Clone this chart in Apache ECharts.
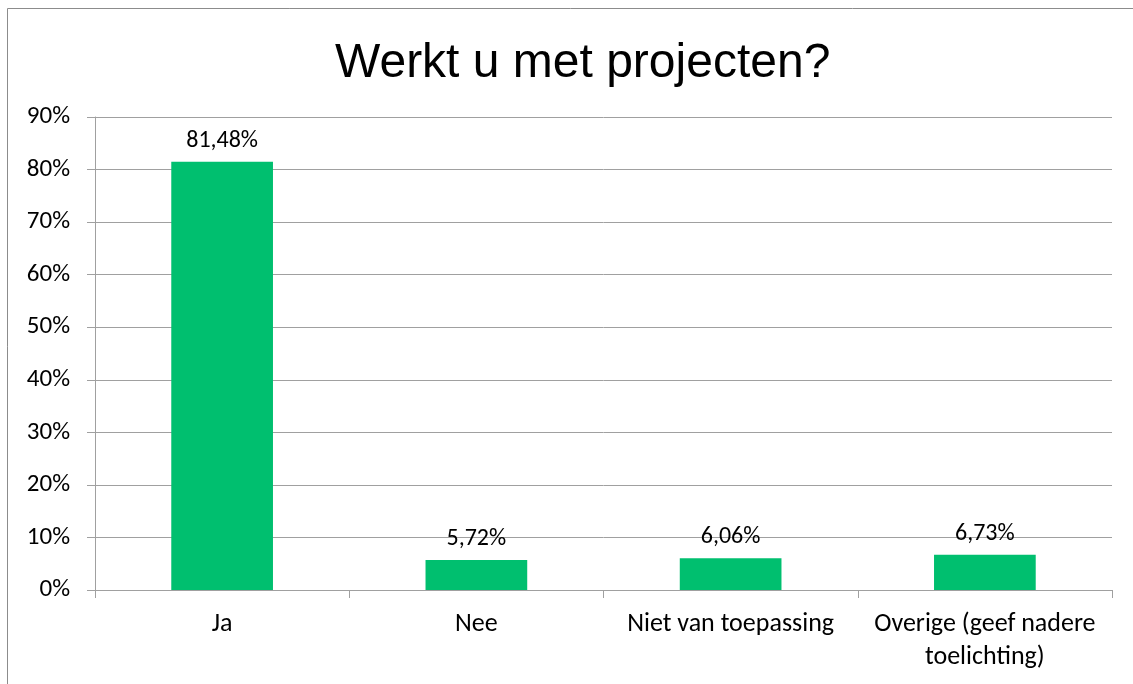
<!DOCTYPE html>
<html>
<head>
<meta charset="utf-8">
<script src="https://cdn.jsdelivr.net/npm/echarts@6/dist/echarts.min.js"></script>
<style>
  html, body { margin: 0; padding: 0; background: #fff; }
  #chart { width: 1133px; height: 684px; }
</style>
</head>
<body>
<div id="chart"></div>
<script>
// antwoorden en percentages
const categories = ['Ja', 'Nee', 'Niet van toepassing', 'Overige (geef nadere\ntoelichting)'];
const percentages = [81.48, 5.72, 6.06, 6.73];
const yTicks = [0, 10, 20, 30, 40, 50, 60, 70, 80, 90];

const labelFont = 'Carlito, Lato, "Open Sans", sans-serif';

let myChart = echarts.init(document.getElementById('chart'));
myChart.setOption({
  animation: false,
  title: {
    text: 'Werkt u met projecten?',
    left: 330,
    top: 35,
    textStyle: { fontFamily: 'Liberation Sans, Arial, sans-serif', fontSize: 48, fontWeight: 'normal', color: '#000' }
  },
  graphic: [{
    type: 'rect',
    shape: { x: 7.5, y: 8.5, width: 1300, height: 900 },
    style: { fill: 'none', stroke: '#8c8c8c', lineWidth: 1 }
  }],
  grid: { left: 95, right: 21, top: 117, bottom: 94 },
  xAxis: {
    type: 'category',
    data: categories,
    axisLine: { lineStyle: { color: '#a0a0a0' } },
    axisTick: { show: true, length: 8, lineStyle: { color: '#a0a0a0' } },
    axisLabel: { color: '#000', fontFamily: labelFont, fontSize: 26, margin: 18, lineHeight: 33, interval: 0 }
  },
  yAxis: {
    type: 'value',
    min: yTicks[0],
    max: yTicks[yTicks.length - 1],
    interval: 10,
    axisLine: { show: true, lineStyle: { color: '#a0a0a0' } },
    axisTick: { show: true, length: 8, lineStyle: { color: '#a0a0a0' } },
    splitLine: { lineStyle: { color: '#a0a0a0' } },
    axisLabel: { color: '#000', fontFamily: labelFont, fontSize: 25, margin: 25, formatter: '{value}%' }
  },
  series: [{
    type: 'bar',
    data: percentages,
    barWidth: '40%',
    itemStyle: { color: '#00bf6f' },
    label: {
      show: true,
      position: 'top',
      distance: 9,
      color: '#000',
      fontFamily: labelFont,
      fontSize: 24,
      formatter: p => p.value.toFixed(2).replace('.', ',') + '%'
    }
  }]
});
</script>
</body>
</html>
